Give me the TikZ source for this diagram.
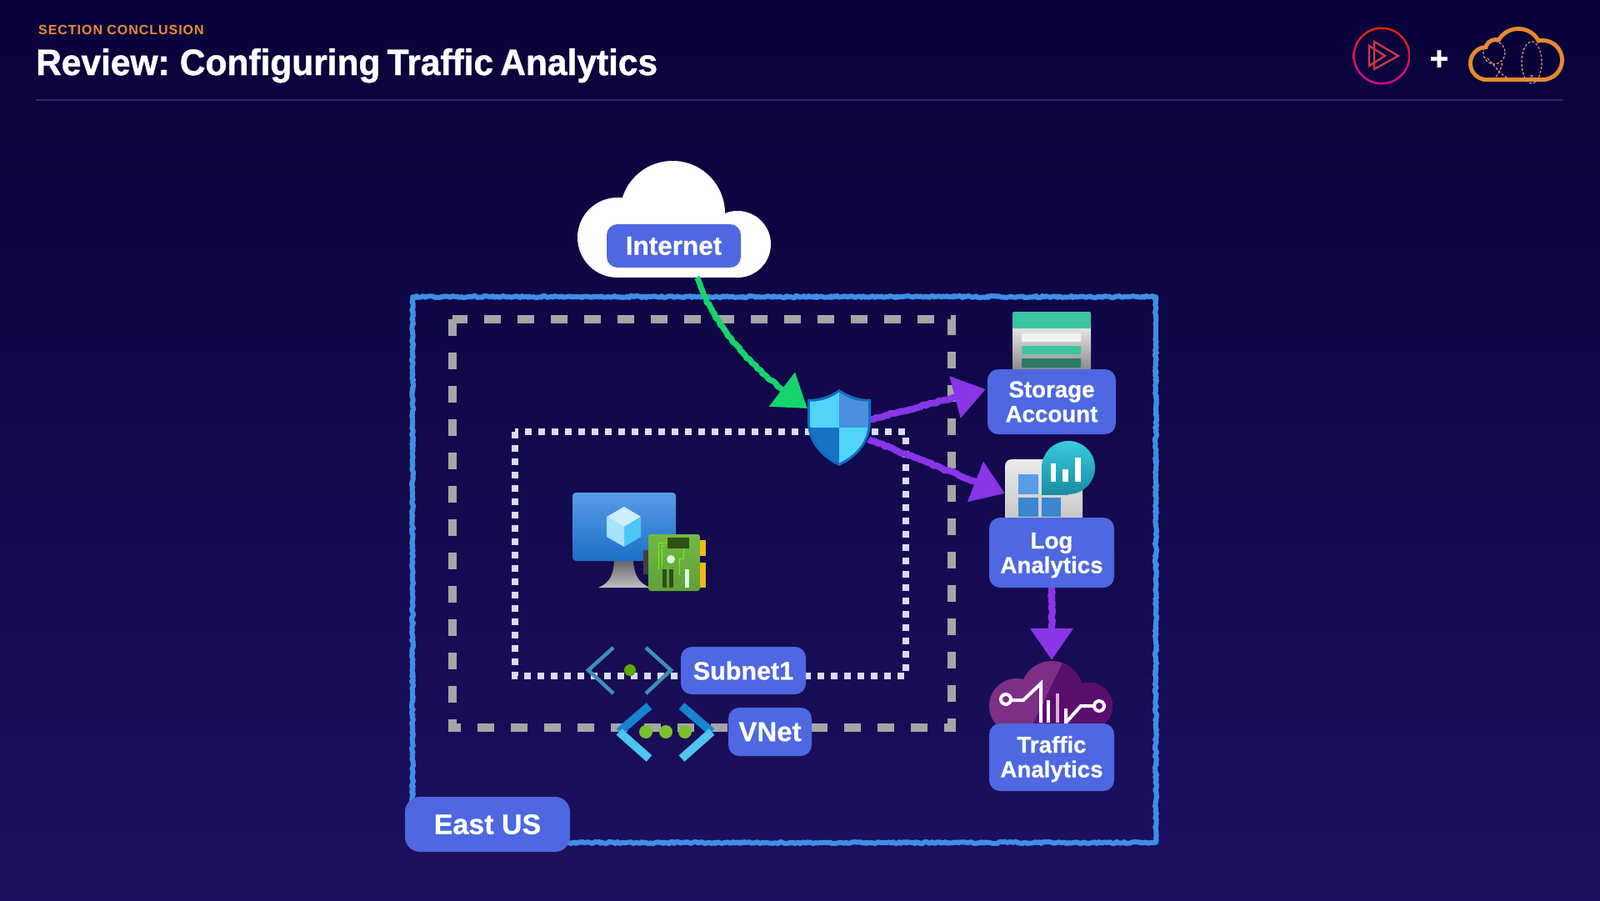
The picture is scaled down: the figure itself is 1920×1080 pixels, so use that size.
\documentclass[tikz,border=0pt]{standalone}
\usepackage{fontspec}
\setmainfont{Liberation Sans}[BoldFeatures={FakeBold=0.6}]
\newfontfamily\titlefont{Liberation Sans}[BoldFeatures={FakeStretch=0.965,FakeBold=1,WordSpace=0.7}]
\newfontfamily\sectionfont{Liberation Sans}[BoldFeatures={LetterSpace=6}]
\usetikzlibrary{arrows.meta}
\usetikzlibrary{decorations.pathmorphing}
\definecolor{boxblue}{HTML}{4D68E0}
\definecolor{chalkblue}{HTML}{3F8EE8}
\definecolor{chalkgreen}{HTML}{14D46E}
\definecolor{chalkpurple}{HTML}{8A35E8}
\definecolor{bgtop}{HTML}{090239}
\definecolor{bgbottom}{HTML}{1D1060}
\definecolor{screentop}{HTML}{5A9BE8}
\definecolor{screenbottom}{HTML}{1A6FC8}
\definecolor{nictop}{HTML}{74B843}
\definecolor{nicbottom}{HTML}{5EA038}
\definecolor{nicdark}{HTML}{2D5016}
\definecolor{tabyellow}{HTML}{F0B818}
\definecolor{shieldcyan}{HTML}{50D4FA}
\definecolor{shieldblue}{HTML}{4A90DC}
\definecolor{shieldlow}{HTML}{1A72C8}
\definecolor{shieldedge}{HTML}{0E6CC4}
\definecolor{storegreen}{HTML}{3CC4A0}
\definecolor{storedark}{HTML}{2A7A64}
\definecolor{logoorange}{HTML}{E8892E}
\definecolor{logored}{HTML}{CC3A44}
\definecolor{balloonline}{HTML}{D8906C}
\definecolor{talight}{HTML}{7C2F85}
\definecolor{tadark}{HTML}{5A0E6E}
\definecolor{tealtop}{HTML}{36CCE0}
\definecolor{tealbottom}{HTML}{1A8CA0}
\definecolor{subnetblue}{HTML}{3F8FB8}
\definecolor{subnetdot}{HTML}{5AA800}
\definecolor{vnetdot}{HTML}{7AC02C}
\tikzstyle{labelbox}=[fill=boxblue, text=white, rounded corners=13pt, inner sep=0pt, align=center, font=\bfseries\fontsize{27.7}{29.5}\selectfont]
\tikzstyle{hidden}=[inner sep=0pt]
\tikzstyle{region}=[draw=chalkblue, line width=6pt, line join=round, decorate, decoration={random steps, segment length=2pt, amplitude=1.1pt}]
\tikzstyle{chalk}=[line join=round, decorate, decoration={random steps, segment length=3pt, amplitude=1.1pt, post=lineto, post length=42pt}, -{Triangle[length=38pt, width=50pt]}]
\tikzstyle{vnetline}=[draw=black!35, line width=10pt, dash pattern=on 20pt off 20pt]
\tikzstyle{subnetline}=[draw=white!86!blue, line width=8pt, dash pattern=on 8pt off 8pt]
\tikzstyle{balloon}=[draw=balloonline, line width=1.3pt, dash pattern=on 3pt off 2pt]
\newcommand{\shieldpath}{(1007,467) .. controls (1020,476) and (1032,479) .. (1045,479) -- (1045,505) .. controls (1045,530) and (1030,548) .. (1007,559) .. controls (984,548) and (969,530) .. (969,505) -- (969,479) .. controls (982,479) and (994,476) .. (1007,467) -- cycle}
\begin{document}
\begin{tikzpicture}[x=1pt, y=-1pt]
    \useasboundingbox (0,0) rectangle (1920,1080);
    \shade[top color=bgtop, bottom color=bgbottom] (0,0) rectangle (1920,1080);

    \node[anchor=west, inner sep=0pt, text=orange!60!brown!90!white, font=\sectionfont\bfseries\fontsize{16}{16}\selectfont] (section) at (46,36) {SECTION CONCLUSION};
    \node[anchor=base west, inner sep=0pt, text=white, font=\titlefont\bfseries\fontsize{44}{44}\selectfont] (title) at (43,90) {Review: Configuring Traffic Analytics};
    \draw[draw=bgbottom!90!white, line width=2.5pt] (43,120) -- (1876,120);

    \shade[top color=red!60!orange!85!black, bottom color=magenta!75!red!85!black, even odd rule] (1658,67) circle (34.5) (1658,67) circle (32);
    \draw[draw=logored, line width=2.3pt, line join=miter] (1649,50) -- (1678,67) -- (1649,83) -- cycle;
    \draw[draw=logored, line width=2.3pt, line join=miter] (1643,55) -- (1662,67) -- (1643,79) -- cycle;
    \node[inner sep=0pt, text=white, font=\titlefont\bfseries\fontsize{40}{40}\selectfont] (plus) at (1727,72) {+};
    \foreach \cx/\cy/\cr in {1784/76/17, 1795/60/10, 1822/62/25, 1851/72/21} {
        \draw[draw=logoorange, line width=10pt] (\cx,\cy) circle (\cr);
    }
    \draw[draw=logoorange, line width=10pt] (1784,77) rectangle (1851,93);
    \foreach \cx/\cy/\cr in {1784/76/17, 1795/60/10, 1822/62/25, 1851/72/21} {
        \fill[fill=bgtop] (\cx,\cy) circle (\cr);
    }
    \fill[fill=bgtop] (1784,77) rectangle (1851,93);
    \draw[balloon] (1838,75) ellipse (12 and 25);
    \draw[balloon] (1793,63) ellipse (13 and 14);
    \draw[balloon] (1785,70) .. controls (1795,80) and (1800,90) .. (1812,95);
    \draw[balloon] (1803,76) .. controls (1800,85) and (1798,90) .. (1792,95);
    \draw[balloon] (1833,95) -- (1840,90);
    \draw[balloon] (1843,95) -- (1836,90);

    \fill[fill=white] (807,256) circle (63);
    \fill[fill=white] (741,285) circle (48);
    \fill[fill=white] (885,293) circle (40);
    \fill[fill=white] (741,285) rectangle (885,333);
    \node[hidden, minimum width=232pt, minimum height=141pt] (cloud) at (809,262.5) {};
    \node[labelbox, minimum width=161pt, minimum height=52pt, font=\bfseries\fontsize{31.5}{31.5}\selectfont] (internet) at (808.5,295) {Internet};

    \draw[region] (495,356) rectangle (1387,1011);
    \draw[vnetline] (543,383) rectangle (1142,873);
    \draw[subnetline] (618,518) rectangle (1087,811);

    \shade[top color=black!60, bottom color=white!75!black] (737,673) -- (760,673) .. controls (761,692) and (768,700) .. (780,705) -- (718,705) .. controls (730,700) and (736,692) .. (737,673) -- cycle;
    \shade[top color=screentop, bottom color=screenbottom, rounded corners=4pt] (687,591) rectangle (811,673);
    \fill[fill=cyan!20!white] (749,608) -- (769,620) -- (749,632) -- (728,620) -- cycle;
    \fill[fill=cyan!70!white] (769,620) -- (769,644) -- (749,656) -- (749,632) -- cycle;
    \fill[fill=cyan!35!white] (728,620) -- (749,632) -- (749,656) -- (728,644) -- cycle;
    \fill[fill=black!75] (772,660) rectangle (778,689);
    \fill[fill=tabyellow] (838,648) rectangle (847,667);
    \fill[fill=tabyellow] (838,675) rectangle (847,705);
    \shade[top color=nictop, bottom color=nicbottom, rounded corners=3pt] (778,641) rectangle (840,709);
    \fill[fill=nicdark] (801,645) rectangle (827,658);
    \draw[draw=green!60!yellow, line width=1pt] (801,651) -- (790,651) -- (790,683);
    \draw[draw=green!60!yellow, line width=1pt] (797,654) -- (794,654) -- (794,680);
    \draw[draw=green!60!yellow, line width=1pt] (820,658) -- (820,670) -- (815,670) -- (815,690);
    \fill[fill=white!85!green] (805,671) circle (5);
    \fill[fill=nicdark] (795,683) rectangle (800,705);
    \fill[fill=nicdark] (803,683) rectangle (808,705);
    \fill[fill=white!90!green] (822,683) rectangle (827,705);

    \draw[draw=subnetblue, line width=4.5pt] (736,777) -- (706,804) -- (736,832);
    \draw[draw=subnetblue, line width=4.5pt] (775,777) -- (805,804) -- (775,832);
    \fill[fill=subnetdot] (756,804) circle (7);

    \draw[draw=screenbottom!85!cyan, line width=10pt] (779,847) -- (743,878);
    \draw[draw=screenbottom!85!cyan, line width=10pt] (818,847) -- (854,878);
    \draw[draw=cyan!70!white, line width=10pt] (743,878) -- (779,910);
    \draw[draw=cyan!70!white, line width=10pt] (854,878) -- (818,910);
    \foreach \dx in {775, 799, 822} {
        \fill[fill=vnetdot] (\dx,878) circle (8);
    }

    \node[labelbox, minimum width=150pt, minimum height=57pt, font=\bfseries\fontsize{30.5}{30.5}\selectfont] (subnet) at (892,804.5) {Subnet1};
    \node[labelbox, minimum width=100pt, minimum height=58pt, font=\bfseries\fontsize{33}{33}\selectfont] (vnet) at (924,878) {VNet};

    \fill[fill=shieldedge] \shieldpath;
    \begin{scope}[shift={(1007,513)}, scale=0.92, shift={(-1007,-513)}]
        \clip \shieldpath;
        \fill[fill=shieldcyan] (969,467) rectangle (1007,513);
        \fill[fill=shieldblue] (1007,467) rectangle (1045,513);
        \fill[fill=shieldlow] (969,513) rectangle (1007,559);
        \fill[fill=shieldcyan] (1007,513) rectangle (1045,559);
    \end{scope}
    \node[hidden, minimum width=76pt, minimum height=92pt] (shield) at (1007,513) {};

    \shade[top color=black!8, bottom color=black!45] (1215,390) rectangle (1309,443);
    \fill[fill=storegreen, rounded corners=2pt] (1215,374) rectangle (1309,394);
    \fill[fill=white!95!black, rounded corners=1pt] (1226,400) rectangle (1297,410);
    \fill[fill=storegreen, rounded corners=1pt] (1226,415) rectangle (1297,425);
    \fill[fill=storedark, rounded corners=1pt] (1226,430) rectangle (1297,441);
    \node[labelbox, minimum width=154pt, minimum height=78pt] (storage) at (1262,482) {Storage\\Account};

    \shade[top color=black!8, bottom color=black!25, rounded corners=8pt] (1206,551) rectangle (1299,640);
    \node[hidden, minimum width=93pt, minimum height=70pt] (logicon) at (1252.5,586) {};
    \fill[fill=screentop] (1222,569) rectangle (1246,593);
    \fill[fill=shieldlow!85!white] (1222,597) rectangle (1246,620);
    \fill[fill=shieldlow!85!white] (1250,597) rectangle (1273,620);
    \shade[top color=tealtop!50!tealbottom, bottom color=tealbottom] (1250,561) rectangle (1282,593);
    \shade[top color=tealtop, bottom color=tealbottom] (1282,561) circle (32);
    \fill[fill=white] (1261,556) rectangle (1267,578);
    \fill[fill=white] (1275,563) rectangle (1282,578);
    \fill[fill=white] (1290,549) rectangle (1297,578);
    \node[labelbox, minimum width=150pt, minimum height=84pt, text height=55pt] (log) at (1262,663) {Log\\Analytics};

    \begin{scope}
        \clip (1180,785) rectangle (1345,872);
        \fill[fill=talight] (1262,830) circle (37);
        \fill[fill=talight] (1220,847) circle (33);
        \fill[fill=talight] (1307,847) circle (28);
        \fill[fill=talight] (1220,846) rectangle (1307,872);
        \begin{scope}
            \clip (1280,785) -- (1345,785) -- (1345,872) -- (1238,872) -- cycle;
            \fill[fill=tadark] (1262,830) circle (37);
            \fill[fill=tadark] (1307,847) circle (28);
            \fill[fill=tadark] (1220,846) rectangle (1307,872);
        \end{scope}
    \end{scope}
    \node[hidden, minimum width=146pt, minimum height=76pt] (tacloud) at (1262,830) {};
    \draw[draw=white, line width=4pt] (1207,839) circle (6);
    \draw[draw=white, line width=4pt] (1319,847) circle (6);
    \draw[draw=white, line width=4pt] (1213,840) -- (1228,840) -- (1249,820) -- (1249,867);
    \draw[draw=white, line width=4pt] (1258,840) -- (1258,867);
    \draw[draw=white!70!violet, line width=4pt] (1269,832) -- (1269,867);
    \draw[draw=white, line width=4pt] (1279,850) -- (1279,867) -- (1297,847) -- (1313,847);
    \node[labelbox, minimum width=150pt, minimum height=81pt, text height=54pt] (traffic) at (1262,908.5) {Traffic\\Analytics};

    \node[labelbox, rounded corners=18pt, minimum width=198pt, minimum height=66pt, font=\bfseries\fontsize{34}{34}\selectfont] (region1) at (585,989) {East US};

    \draw[chalk, line width=7pt, draw=chalkgreen] ([xshift=27pt]cloud.south) .. controls (862,400) and (905,445) .. ([yshift=23pt]shield.west);
    \draw[chalk, line width=8pt, draw=chalkpurple] ([yshift=10pt]shield.east) -- ([yshift=15pt, xshift=-2pt]storage.west);
    \draw[chalk, line width=8pt, draw=chalkpurple] ([yshift=-14pt, xshift=-3pt]shield.east) -- ([yshift=-6pt]logicon.west);
    \draw[chalk, line width=8pt, draw=chalkpurple] (log.south) -- (tacloud.north);
\end{tikzpicture}
\end{document}
